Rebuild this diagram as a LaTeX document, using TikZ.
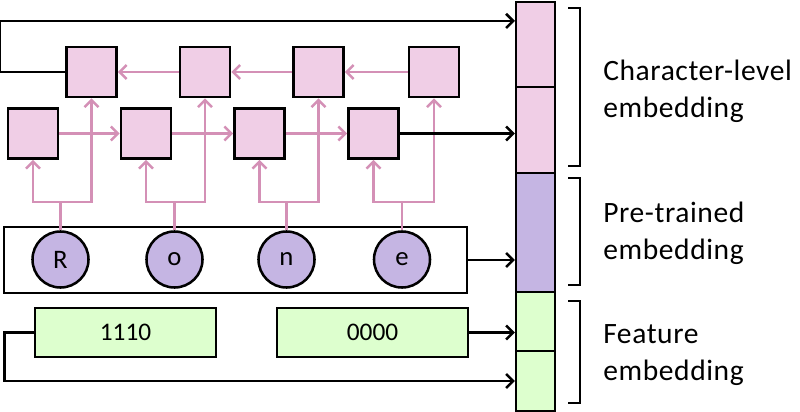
\documentclass[tikz,border=0pt]{standalone}
\usepackage{fontspec}
\setmainfont{Carlito}
\newfontfamily\labelfont[LetterSpace=2]{Carlito}
\usetikzlibrary{arrows.meta}

\definecolor{cellpink}{RGB}{240,206,230}
\definecolor{linkpink}{RGB}{212,144,182}
\definecolor{charpurple}{RGB}{197,181,227}
\definecolor{featgreen}{RGB}{221,255,206}

\tikzset{
	>={Straight Barb[length=5pt,width=10pt]},
	lstm/.style={draw, line width=1.8pt, fill=cellpink, minimum size=1.25cm, inner sep=0pt},
	charnode/.style={draw, circle, line width=1.8pt, fill=charpurple, minimum size=1.4cm, inner sep=0pt, font=\fontsize{19}{22}\selectfont},
	featbox/.style={draw, line width=1.8pt, fill=featgreen, minimum height=1.225cm, inner sep=0pt, font=\fontsize{18}{21}\selectfont},
	vecbox/.style={draw, line width=1.5pt, minimum width=0.975cm, inner sep=0pt},
	link/.style={->, linkpink, line width=1.8pt},
	feed/.style={->, black, line width=1.8pt},
	bracket/.style={black, line width=1.4pt},
	embname/.style={anchor=west, align=left, inner sep=0pt, font=\labelfont\fontsize{21}{26.5}\selectfont}
}

\begin{document}
\begin{tikzpicture}[x=0.025cm, y=-0.025cm]
	\useasboundingbox (0,0) rectangle (800,412);
	
	% Embedding vector
	\node[vecbox, fill=cellpink, minimum height=2.125cm] (cell1) at (535.5,44.5) {};
	\node[vecbox, fill=cellpink, minimum height=2.15cm] (cell2) at (535.5,130) {};
	\node[vecbox, fill=charpurple, minimum height=2.975cm] (pre) at (535.5,232.5) {};
	\node[vecbox, fill=featgreen, minimum height=1.475cm] (feat1) at (535.5,321.5) {};
	\node[vecbox, fill=featgreen, minimum height=1.5cm] (feat2) at (535.5,381) {};
	
	% Brackets
	\draw[bracket] (568,8) -- (580,8) -- (580,166) -- (568,166);
	\draw[bracket] (568,178) -- (580,178) -- (580,285) -- (568,285);
	\draw[bracket] (568,301) -- (580,301) -- (580,403) -- (568,403);
	
	% Labels
	\node[embname] (charlbl) at (603,91) {Character-level\\embedding};
	\node[embname] (prelbl) at (603,233) {Pre-trained\\embedding};
	\node[embname] (featlbl) at (603,355) {Feature\\embedding};
	
	% Backward LSTM
	\node[lstm] (bw1) at (91.5,72) {};
	\node[lstm] (bw2) at (205,72) {};
	\node[lstm] (bw3) at (318.5,72) {};
	\node[lstm] (bw4) at (434,72) {};
	
	% Forward LSTM
	\node[lstm] (fw1) at (33,133.5) {};
	\node[lstm] (fw2) at (146,133.5) {};
	\node[lstm] (fw3) at (259.5,133.5) {};
	\node[lstm] (fw4) at (373.5,133.5) {};
	
	% Characters
	\node[draw, line width=1.8pt, minimum width=11.575cm, minimum height=1.65cm, inner sep=0pt] (charrow) at (235.5,260) {};
	\node[charnode] (c1) at (60.5,259.5) {R};
	\node[charnode] (c2) at (174.5,259.5) {o};
	\node[charnode] (c3) at (286.5,259.5) {n};
	\node[charnode] (c4) at (402,259.5) {e};
	
	% Features
	\node[featbox, minimum width=4.525cm] (f1) at (125.5,332.5) {1110};
	\node[featbox, minimum width=4.775cm] (f2) at (372.5,332.5) {0000};
	
	% Recurrent links
	\foreach \a/\b in {bw4/bw3, bw3/bw2, bw2/bw1}
		\draw[link] (\a.west) -- (\b.east);
	\foreach \a/\b in {fw1/fw2, fw2/fw3, fw3/fw4}
		\draw[link] (\a.east) -- (\b.west);
	
	% Inputs
	\foreach \i in {1,...,4} {
		\draw[link] (c\i.north) -- ++(0,-28) -| (fw\i.south);
		\draw[link] (c\i.north) -- ++(0,-28) -| (bw\i.south);
	}
	
	% Into the vector
	\draw[feed] (bw1.west) -- ++(-65,0) |- ([yshift=0.59cm]cell1.west);
	\draw[feed] (fw4.east) -- (fw4.east -| cell2.west);
	\draw[feed] (charrow.east) -- (charrow.east -| pre.west);
	\draw[feed] (f2.east) -- (f2.east -| feat1.west);
	\draw[feed] (f1.west) -- ++(-29,0) |- (feat2.west);
\end{tikzpicture}
\end{document}
